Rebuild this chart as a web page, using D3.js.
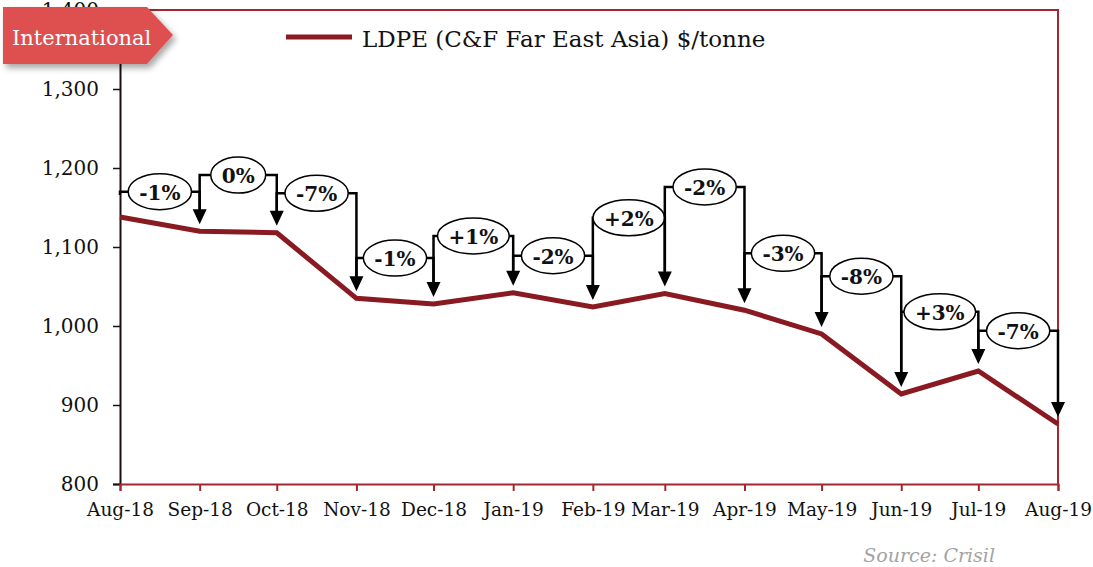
<!DOCTYPE html>
<html>
<head>
<meta charset="utf-8">
<script src="https://cdn.jsdelivr.net/npm/d3@7"></script>
<style>
  html, body { margin: 0; padding: 0; background: #fff; }
  svg { display: block; }
  text { font-family: "DejaVu Serif", "Liberation Serif", serif; }
</style>
</head>
<body>
<svg id="chart" width="1093" height="567"></svg>
<script>
// Monthly LDPE price, C&F Far East Asia ($/tonne)
const months = ["Aug-18","Sep-18","Oct-18","Nov-18","Dec-18","Jan-19","Feb-19",
                "Mar-19","Apr-19","May-19","Jun-19","Jul-19","Aug-19"];
const monthDates = [
  [2018,7],[2018,8],[2018,9],[2018,10],[2018,11],[2019,0],[2019,1],
  [2019,2],[2019,3],[2019,4],[2019,5],[2019,6],[2019,7]
].map(([yr, m]) => new Date(Date.UTC(yr, m, 1)));
const prices = [1138, 1120, 1118, 1035, 1028, 1042, 1024, 1041, 1020, 990, 914, 943, 876];

// Month-on-month change callouts and the price level each callout sits at
const changes = ["-1%","0%","-7%","-1%","+1%","-2%","+2%","-2%","-3%","-8%","+3%","-7%"];
const calloutLevels = [1170, 1191, 1168, 1086, 1114, 1089, 1137, 1176, 1092, 1063, 1018, 994];

const yTicks = [800, 900, 1000, 1100, 1200, 1300, 1400];
const seriesName = "LDPE (C&F Far East Asia) $/tonne";
const badgeText = "International";
const sourceText = "Source: Crisil";

const lineColor = "#8a1a22";
const frameColor = "#a0282e";

const svg = d3.select("#chart");
const plotLeft = 120, plotRight = 1058, plotTop = 10, plotBottom = 484;

const x = d3.scaleUtc().domain([monthDates[0], monthDates[monthDates.length - 1]]).range([plotLeft, plotRight]);
const y = d3.scaleLinear().domain([800, 1400]).range([plotBottom, plotTop]);

const defs = svg.append("defs");
const shadow = defs.append("filter").attr("id", "badgeShadow")
  .attr("x", "-20%").attr("y", "-30%").attr("width", "140%").attr("height", "170%");
shadow.append("feDropShadow").attr("dx", 3).attr("dy", 4).attr("stdDeviation", 3)
  .attr("flood-color", "#000").attr("flood-opacity", 0.35);

// Frame: top and right edges
svg.append("path")
  .attr("d", `M${plotLeft},${plotTop}H${plotRight}V${plotBottom}`)
  .attr("fill", "none").attr("stroke", frameColor).attr("stroke-width", 2);

// Y axis
const yAxis = svg.append("g").attr("transform", `translate(${plotLeft},0)`)
  .call(d3.axisLeft(y).tickValues(yTicks).tickSize(7).tickPadding(14).tickFormat(d3.format(",")));
yAxis.select(".domain").attr("stroke", "#1a1010").attr("stroke-width", 2);
yAxis.selectAll(".tick line").attr("stroke", "#1a1010").attr("stroke-width", 1.5);
yAxis.selectAll(".tick text").attr("font-size", 20).attr("fill", "#111")
  .attr("font-family", "DejaVu Serif, serif");

// X axis
const xAxis = svg.append("g").attr("transform", `translate(0,${plotBottom})`)
  .call(d3.axisBottom(x).tickValues(monthDates).tickSize(7).tickPadding(12)
    .tickFormat((d, i) => months[i]));
xAxis.select(".domain").attr("stroke", frameColor).attr("stroke-width", 2);
xAxis.selectAll(".tick line").attr("stroke", frameColor).attr("stroke-width", 2);
xAxis.selectAll(".tick text").attr("font-size", 18.5).attr("fill", "#111")
  .attr("font-family", "DejaVu Serif, serif");

// Price line
const line = d3.line().x((d, i) => x(monthDates[i])).y(d => y(d));
svg.append("path").datum(prices)
  .attr("d", line)
  .attr("fill", "none").attr("stroke", lineColor).attr("stroke-width", 5)
  .attr("stroke-linejoin", "miter");

// Change callouts: bracket from one month to the next, arrow down onto the later point
const gap = 7, headH = 15, headW = 14;
const callouts = svg.append("g");
changes.forEach((label, i) => {
  const x0 = x(monthDates[i]), x1 = x(monthDates[i + 1]);
  const cy = y(calloutLevels[i]);
  const cx = (x0 + x1) / 2;
  const g = callouts.append("g");

  const t = g.append("text").attr("x", cx).attr("y", cy + 1)
    .attr("text-anchor", "middle").attr("dominant-baseline", "central")
    .attr("font-size", 20).attr("font-weight", "bold").attr("fill", "#111")
    .text(label);
  const w = t.node().getComputedTextLength();
  const rx = w / 2 + 11, ry = 18;

  const tip0 = y(prices[i]) - gap, tip1 = y(prices[i + 1]) - gap;
  const path = [
    `M${x0},${Math.max(cy, tip0 - headH)}V${cy}H${cx - rx}`,
    `M${cx + rx},${cy}H${x1}V${tip1 - headH + 1}`
  ].join("");
  g.insert("path", "text").attr("d", path)
    .attr("fill", "none").attr("stroke", "#000").attr("stroke-width", 2.5);
  g.insert("path", "text")
    .attr("d", `M${x1 - headW / 2},${tip1 - headH}L${x1 + headW / 2},${tip1 - headH}L${x1},${tip1}Z`)
    .attr("fill", "#000");
  g.insert("ellipse", "text").attr("cx", cx).attr("cy", cy).attr("rx", rx).attr("ry", ry)
    .attr("fill", "#fff").attr("stroke", "#000").attr("stroke-width", 1.5);
});

// Legend
svg.append("line").attr("x1", 286).attr("x2", 352).attr("y1", 37).attr("y2", 37)
  .attr("stroke", lineColor).attr("stroke-width", 5);
svg.append("text").attr("x", 362).attr("y", 47)
  .attr("font-size", 23).attr("fill", "#111").text(seriesName);

// Section badge
const badge = svg.append("g").attr("filter", "url(#badgeShadow)");
badge.append("path").attr("d", "M3,7H147L173,35L147,64H3Z").attr("fill", "#de5050");
svg.append("text").attr("x", 12).attr("y", 45)
  .attr("font-size", 21).attr("fill", "#fff").text(badgeText);

// Source note
svg.append("text").attr("x", 995).attr("y", 562).attr("text-anchor", "end")
  .attr("font-size", 19).attr("font-style", "italic").attr("fill", "#a3a3a3").text(sourceText);
</script>
</body>
</html>
